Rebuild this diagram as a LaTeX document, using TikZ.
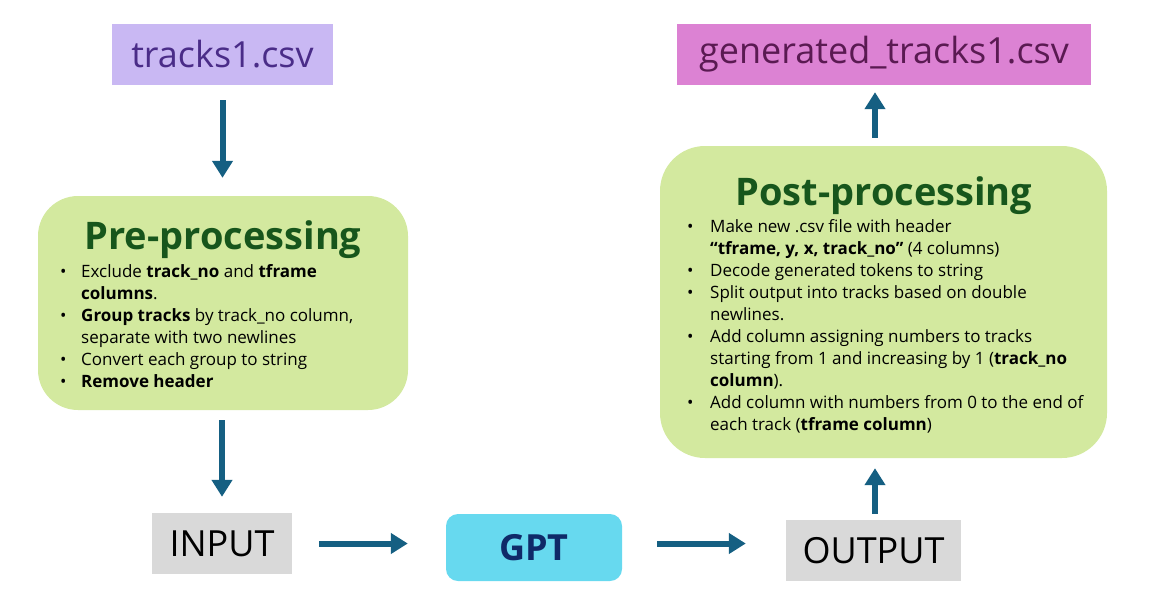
\documentclass[tikz,border=0pt]{standalone}
\usepackage{fontspec}
\setmainfont{Open Sans}
\usepackage{array}
\usetikzlibrary{arrows.meta}

\definecolor{csvlilac}{HTML}{C9B8F3}
\definecolor{csvink}{HTML}{4A2C88}
\definecolor{genpink}{HTML}{DC82D3}
\definecolor{genink}{HTML}{5A1A52}
\definecolor{stagegreen}{HTML}{D3E99F}
\definecolor{titlegreen}{HTML}{17561C}
\definecolor{flowblue}{HTML}{155F82}
\definecolor{iogray}{HTML}{D9D9D9}
\definecolor{gptcyan}{HTML}{67D9EF}
\definecolor{gptink}{HTML}{0F2A68}

\tikzset{
  filebox/.style={inner sep=0pt, font=\fontsize{36}{40}\selectfont},
  stagebox/.style={fill=stagegreen, inner sep=0pt},
  stagetitle/.style={inner sep=0pt, text=titlegreen, font=\fontsize{38}{42}\selectfont\bfseries},
  stagelist/.style={inner sep=0pt, anchor=base west, font=\fontsize{17}{22}\selectfont},
  iobox/.style={fill=iogray, inner sep=0pt, font=\fontsize{36}{40}\selectfont},
  flow/.style={draw=flowblue, line width=6pt, -{Triangle[width=20pt,length=17pt]}}
}
\newcommand{\bul}{\textbullet}

\begin{document}
\begin{tikzpicture}[x=1pt,y=-1pt]
\useasboundingbox (0,0) rectangle (1150,598);

% files
\node[filebox, fill=csvlilac, text=csvink, minimum width=221pt, minimum height=61pt] (csv) at (222.5,54.5) {tracks1.csv};
\node[filebox, fill=genpink, text=genink, minimum width=414pt, minimum height=61pt] (gen) at (884,54.5) {generated\_tracks1.csv};

% pre-processing
\node[stagebox, rounded corners=40pt, minimum width=370pt, minimum height=214pt] (pre) at (223,303) {};
\node[stagetitle] (pretitle) at (223,240) {Pre-processing};
\node[stagelist] (prelist) at (60,277) {%
  \begin{tabular}[t]{@{}p{21pt}@{}l@{}}
  \bul & Exclude \textbf{track\_no} and \textbf{tframe}\\
       & \textbf{columns}.\\
  \bul & \textbf{Group tracks} by track\_no column,\\
       & separate with two newlines\\
  \bul & Convert each group to string\\
  \bul & \textbf{Remove header}
  \end{tabular}};

% post-processing
\node[stagebox, rounded corners=45pt, minimum width=447pt, minimum height=312pt] (post) at (883.5,302) {};
\node[stagetitle] (posttitle) at (884,196) {Post-processing};
\node[stagelist] (postlist) at (687,232) {%
  \begin{tabular}[t]{@{}p{23pt}@{}l@{}}
  \bul & Make new .csv file with header\\
       & \textbf{``tframe, y, x, track\_no''} (4 columns)\\
  \bul & Decode generated tokens to string\\
  \bul & Split output into tracks based on double\\
       & newlines.\\
  \bul & Add column assigning numbers to tracks\\
       & starting from 1 and increasing by 1 (\textbf{track\_no}\\
       & \textbf{column}).\\
  \bul & Add column with numbers from 0 to the end of\\
       & each track (\textbf{tframe column})
  \end{tabular}};

% model row
\node[iobox, minimum width=140pt, minimum height=61pt] (input) at (222,543.5) {INPUT};
\node[fill=gptcyan, rounded corners=12pt, inner sep=0pt, minimum width=176pt, minimum height=67pt,
      text=gptink, font=\fontsize{36}{40}\selectfont\bfseries] (gpt) at (534,547.5) {GPT};
\node[iobox, minimum width=175pt, minimum height=61pt] (output) at (873.5,550.5) {OUTPUT};

% arrows
\draw[flow, shorten <=15pt, shorten >=18pt] (csv.south) -- (pre.north -| csv.south);
\draw[flow, shorten <=10pt, shorten >=16pt] (input.north |- pre.south) -- (input.north);
\draw[flow, shorten <=27pt, shorten >=38pt] (input.east) -- (gpt.west |- input.east);
\draw[flow, shorten <=35pt, shorten >=40pt] (gpt.east |- input.east) -- (output.west |- input.east);
\draw[flow, shorten <=6pt, shorten >=10pt] ([xshift=1.5pt]output.north) -- ([xshift=1.5pt]output.north |- post.south);
\draw[flow, shorten <=8pt, shorten >=7pt] ([xshift=1.5pt]output.north |- post.north) -- ([xshift=1.5pt]output.north |- gen.south);
\end{tikzpicture}
\end{document}
